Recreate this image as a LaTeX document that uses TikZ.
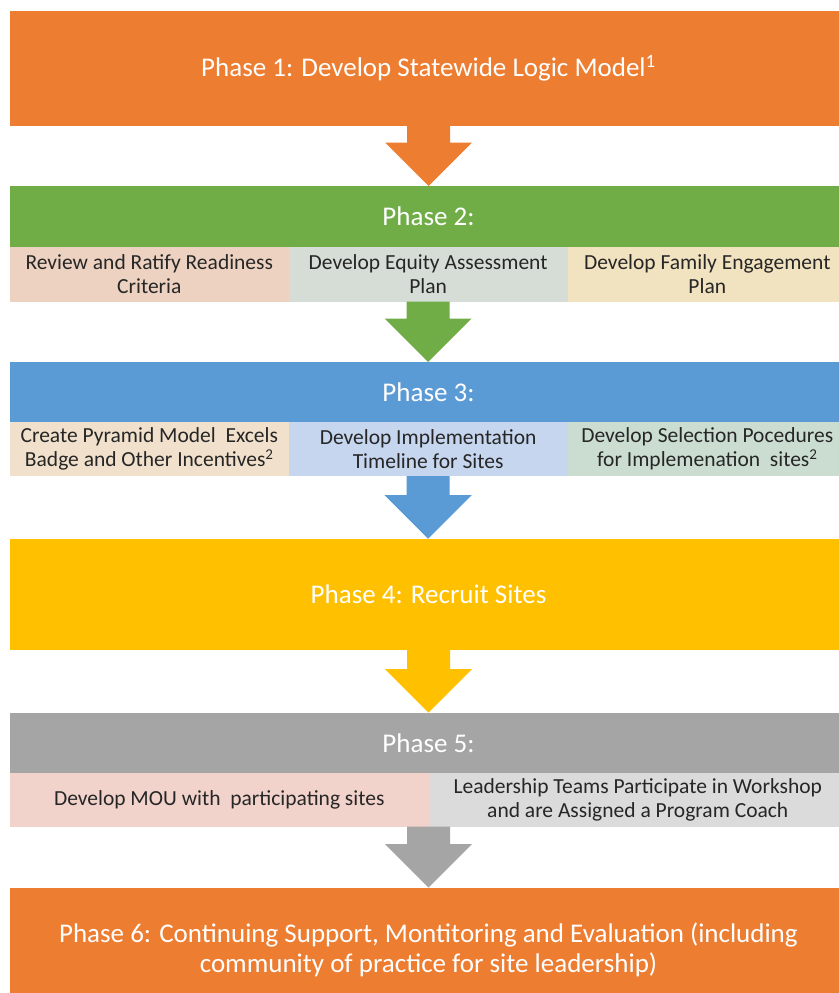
\documentclass[tikz,border=0pt]{standalone}
\usepackage{fontspec}
\setmainfont{Carlito}
\usetikzlibrary{calc}

\definecolor{phaseorange}{HTML}{ED7D31}
\definecolor{phasegreen}{HTML}{70AD47}
\definecolor{phaseblue}{HTML}{5B9BD5}
\definecolor{phaseyellow}{HTML}{FFC000}
\definecolor{phasegray}{HTML}{A5A5A5}
\definecolor{peach}{HTML}{EDD2C2}
\definecolor{sage}{HTML}{D6DDD6}
\definecolor{sand}{HTML}{F1E2C0}
\definecolor{apricot}{HTML}{F1E1CC}
\definecolor{skyblue}{HTML}{C6D6EE}
\definecolor{mint}{HTML}{CBDDD0}
\definecolor{rose}{HTML}{F2D3CB}
\definecolor{silver}{HTML}{DBDBDB}

\tikzset{
  phase/.style={fill=#1, text=white, inner sep=0pt, outer sep=0pt, anchor=north west,
    minimum width=837pt, align=center, font=\fontsize{27}{30}\selectfont},
  subbox/.style={fill=#1, text=black!85, inner sep=0pt, outer sep=0pt, anchor=north west,
    align=center, font=\fontsize{21.5}{24.5}\selectfont},
}

% block arrow from a point down to the top of a node
\newcommand{\phasearrow}[3]{%
  \fill[#3] let \p1=(#1), \p2=(#2.north) in
    (\x1-21.5pt,\y1) -- (\x1+21.5pt,\y1) -- (\x1+21.5pt,\y2+43.5pt)
    -- (\x1+43.5pt,\y2+43.5pt) -- (\x1,\y2) -- (\x1-43.5pt,\y2+43.5pt)
    -- (\x1-21.5pt,\y2+43.5pt) -- cycle;
}

\begin{document}
\begin{tikzpicture}[x=1pt,y=-1pt]
\useasboundingbox (0,0) rectangle (838,993);

% phase 1
\node[phase=phaseorange, minimum height=114.7pt] (p1) at (10,11)
  {Phase 1: Develop Statewide Logic Model\textsuperscript{1}};

% phase 2
\node[phase=phasegreen, minimum height=60.7pt] (p2) at (10,186) {Phase 2:};
\node[subbox=peach, minimum width=278.6pt, minimum height=55pt] (p2a) at (p2.south west)
  {Review and Ratify Readiness\\Criteria};
\node[subbox=sage, minimum width=279pt, minimum height=55pt] (p2b) at (p2a.north east)
  {Develop Equity Assessment\\Plan};
\node[subbox=sand, minimum width=279.4pt, minimum height=55pt] (p2c) at (p2b.north east)
  {Develop Family Engagement\\Plan};

% phase 3
\node[phase=phaseblue, minimum height=60pt] (p3) at (10,362) {Phase 3:};
\node[subbox=apricot, minimum width=278.6pt, minimum height=54pt] (p3a) at (p3.south west)
  {Create Pyramid Model\ \ Excels\\Badge and Other Incentives\textsuperscript{2}};
\node[subbox=skyblue, minimum width=279pt, minimum height=54pt] (p3b) at (p3a.north east)
  {Develop Implementation\\Timeline for Sites};
\node[subbox=mint, minimum width=279.4pt, minimum height=54pt] (p3c) at (p3b.north east)
  {Develop Selection Pocedures\\for Implemenation\ \ sites\textsuperscript{2}};

% phase 4
\node[phase=phaseyellow, minimum height=111.3pt] (p4) at (10,538.7) {Phase 4: Recruit Sites};

% phase 5
\node[phase=phasegray, minimum height=60.8pt] (p5) at (10,712.5) {Phase 5:};
\node[subbox=rose, minimum width=418.5pt, minimum height=53.4pt] (p5a) at (p5.south west)
  {Develop MOU with\ \ participating sites};
\node[subbox=silver, minimum width=418.5pt, minimum height=53.4pt] (p5b) at (p5a.north east)
  {Leadership Teams Participate in Workshop\\and are Assigned a Program Coach};

% phase 6
\node[phase=phaseorange, minimum height=124.3pt] (p6) at (10,887.7)
  {Phase 6: Continuing Support, Montitoring and Evaluation (including\\community of practice for site leadership)};

% arrows
\phasearrow{p1.south}{p2}{phaseorange}
\phasearrow{p2b.south}{p3}{phasegreen}
\phasearrow{p3b.south}{p4}{phaseblue}
\phasearrow{p4.south}{p5}{phaseyellow}
\phasearrow{p5a.south east}{p6}{phasegray}
\end{tikzpicture}
\end{document}
